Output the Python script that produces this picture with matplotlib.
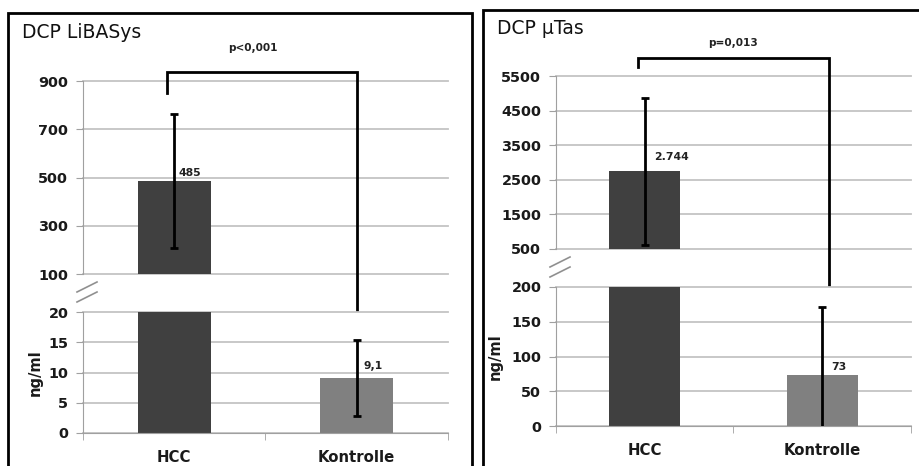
import matplotlib
matplotlib.use("Agg")
import matplotlib.pyplot as plt
from matplotlib.patches import Rectangle
from matplotlib.lines import Line2D

plt.rcParams['font.family'] = ['DejaVu Sans']

# data
groups = ["HCC", "Kontrolle"]
colors = ["#404040", "#808080"]

libasys_mean = [485, 9.1]
libasys_err = [277, 6.3]
libasys_labels = ["485", "9,1"]
libasys_p = "p<0,001"

utas_mean = [2744, 73]
utas_err = [2120, 98]
utas_labels = ["2.744", "73"]
utas_p = "p=0,013"

W, H = 920, 466
fig = plt.figure(figsize=(W / 100, H / 100), dpi=100)


def box(x0, y0, x1, y1):
    return [x0 / W, 1 - y1 / H, (x1 - x0) / W, (y1 - y0) / H]


grid_c = "#c4c4c4"
axis_c = "#a0a0a0"


def style(ax, ylim, ticks):
    ax.set_xlim(-0.5, 1.5)
    ax.set_ylim(*ylim)
    ax.set_yticks(ticks)
    ax.set_axisbelow(True)
    ax.grid(axis="y", color=grid_c, lw=1.3)
    for g in ax.get_ygridlines():
        g.set_clip_on(False)
    for s in ["top", "right", "bottom"]:
        ax.spines[s].set_visible(False)
    ax.spines["left"].set_color(axis_c)
    ax.tick_params(axis="y", length=5, color=axis_c, labelsize=10.4, pad=5.5,
                   labelcolor="#1a1a1a")
    for t in ax.get_yticklabels():
        t.set_fontweight("bold")


def panel(px, upper, lower, up_lim, up_ticks, lo_lim, lo_ticks,
          means, errs, labels, lab_off, ptext, title, title_xy, br, ylab_x):
    ax_u = fig.add_axes(box(*upper))
    ax_l = fig.add_axes(box(*lower))
    style(ax_u, up_lim, up_ticks)
    style(ax_l, lo_lim, lo_ticks)
    for ax in (ax_u, ax_l):
        ax.bar(range(len(groups)), means, width=0.4, color=colors, zorder=2)
        ax.errorbar(range(len(groups)), means, yerr=errs, fmt="none",
                    ecolor="black", elinewidth=2, capsize=3, capthick=2, zorder=3)
    ax_u.set_xticks([])
    ax_l.spines["bottom"].set_visible(True)
    ax_l.spines["bottom"].set_color(axis_c)
    ax_l.set_xticks(range(len(groups)))
    ax_l.set_xticklabels(groups, fontsize=10.7, fontweight="bold", color="#1a1a1a")
    ax_l.tick_params(axis="x", length=0, pad=12)
    ax_l.set_xticks([-0.5, 0.5, 1.5], minor=True)
    ax_l.tick_params(axis="x", which="minor", length=5, color=axis_c)
    ax_l.set_ylabel("ng/ml", fontsize=10.6, fontweight="bold", color="#1a1a1a")
    ax_l.yaxis.set_label_coords(ylab_x, 0.5)

    # value labels
    for i, (m, lab) in enumerate(zip(means, labels)):
        ax = ax_u if m > up_lim[0] else ax_l
        ax.annotate(lab, xy=(i, m), xytext=lab_off[i], textcoords="offset pixels",
                    ha="center", va="center", fontsize=7.8, fontweight="bold",
                    color="#222222", zorder=4)

    # significance bracket
    tr = ax_u.get_xaxis_transform()
    xl, xr, ytop, yl, yr, px_, py = br
    ax_u.plot([xl, xl, xr, xr], [yl, ytop, ytop, yr], color="black", lw=2,
              transform=tr, clip_on=False, solid_joinstyle="miter")
    ax_u.text(px_, py, ptext, transform=tr, ha="center",
              va="center", fontsize=7.6, fontweight="bold", color="#222222")

    # axis break marks
    x0 = upper[0]
    yb = upper[3]
    for dy in (11, 21):
        fig.add_artist(Line2D([(x0 - 6) / W, (x0 + 14) / W],
                              [1 - (yb + dy + 7) / H, 1 - (yb + dy - 3) / H],
                              color="#909090", lw=1.2))

    fig.text(title_xy[0] / W, 1 - title_xy[1] / H, title, fontsize=13.5,
             ha="left", va="center", color="#111111")
    fig.add_artist(Rectangle((px[0] / W, 1 - px[3] / H), (px[2] - px[0]) / W,
                             (px[3] - px[1]) / H, fill=False, lw=2,
                             edgecolor="black"))


panel(px=(8, 13, 472, 480), upper=(83, 81, 448, 274), lower=(83, 312, 448, 433),
      up_lim=(100, 900), up_ticks=[100, 300, 500, 700, 900],
      lo_lim=(0, 20), lo_ticks=[0, 5, 10, 15, 20],
      means=libasys_mean, errs=libasys_err, labels=libasys_labels,
      lab_off=[(16, 8), (16, 12)], ptext=libasys_p, title="DCP LiBASys",
      title_xy=(22, 33), br=(-0.04, 1.0, 1.047, 0.938, -0.197, 0.43, 1.171),
      ylab_x=-0.11)

panel(px=(483, 10, 940, 480), upper=(556, 76, 911, 249), lower=(556, 287, 911, 426),
      up_lim=(500, 5500), up_ticks=[500, 1500, 2500, 3500, 4500, 5500],
      lo_lim=(0, 200), lo_ticks=[0, 50, 100, 150, 200],
      means=utas_mean, errs=utas_err, labels=utas_labels,
      lab_off=[(27, 14), (17, 8)], ptext=utas_p, title="DCP µTas",
      title_xy=(497, 28), br=(-0.04, 1.04, 1.104, 1.052, -0.22, 0.5, 1.19),
      ylab_x=-0.149)

fig.savefig("out.png", dpi=100)
